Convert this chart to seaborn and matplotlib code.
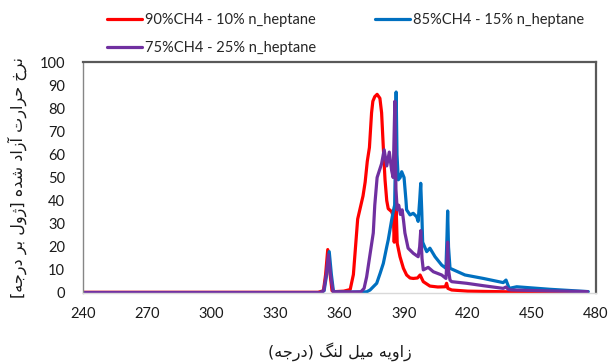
import numpy as np
import pandas as pd
import matplotlib
matplotlib.use("Agg")
import matplotlib.pyplot as plt
import seaborn as sns

# ---- data: crank angle (deg) vs heat release rate (J/deg) ----
red_angle = [240, 350, 352.5, 353.5, 354.5, 355.5, 356.5, 358, 362, 365, 366.5, 367.5,
             368.5, 369.5, 371, 372, 373, 374, 375, 375.6, 376.5, 377.6, 378.9, 379.7,
             380.5, 381.3, 382.1, 382.8, 384.4, 385.2, 385.6, 386.1, 386.5, 387, 388.3,
             389.9, 391.4, 393, 394.5, 396.5, 397.7, 399.2, 401, 402.3, 406, 409.5,
             410.1, 410.7, 412.5, 420, 440, 476]
red_value = [0.3, 0.3, 1, 8, 18.8, 9, 1, 0.6, 0.8, 1.5, 8, 20,
             32, 36, 42, 48, 57, 63, 78, 83, 85, 86, 84.3, 78,
             63, 49, 40, 36.5, 35.2, 33, 22, 33, 37, 21.5, 15.7,
             10.7, 7.8, 6.5, 6.3, 6.5, 7.8, 4.9, 3.8, 3, 2.6, 2.7,
             4.2, 2, 1.3, 0.8, 0.5, 0.3]

blue_angle = [240, 351, 352.8, 354, 355.2, 356.2, 357.2, 365, 372.7, 374.3, 377.4, 379,
              380.5, 382.1, 382.8, 384.4, 385.3, 385.8, 386.2, 386.5, 386.9, 387.5, 388.4,
              389.1, 390.2, 391.1, 391.4, 393, 394.5, 396.1, 396.8, 397.5, 398, 398.5,
              398.9, 400.8, 402.3, 404.7, 407.8, 409.8, 410.3, 410.6, 411, 411.7, 418.7,
              427.3, 436.6, 437.9, 439.4, 442.9, 458.5, 476.4]
blue_value = [0.2, 0.2, 1, 8, 17.9, 8, 0.5, 0.4, 0.5, 1.3, 4.2, 8.5,
              12.8, 20, 23, 31.6, 36, 38, 60, 87, 60, 49, 50,
              52.5, 50, 40, 36, 33.8, 34.5, 33, 31, 40, 47.5, 35,
              22, 17.9, 19.4, 15.7, 12.1, 10.7, 25, 35.5, 20, 10.7, 7.8,
              6.3, 4.5, 5.6, 2, 2.7, 1.6, 0.6]

purple_angle = [240, 351, 352.6, 353.8, 354.8, 355.8, 357, 365, 370, 371.5, 372.7, 374,
                375.8, 376.5, 377.6, 379.7, 380.9, 382.1, 383.3, 384.4, 385.1, 385.9,
                386.4, 387, 387.7, 388.5, 389.3, 390, 390.6, 392.1, 394.5, 396.8, 397.5,
                398, 398.6, 399.2, 401.5, 403.9, 407.8, 409.8, 410.3, 410.6, 411, 411.7,
                412.5, 419.5, 427, 436.6, 437.9, 439, 440.5, 458, 476]
purple_value = [0.2, 0.2, 1, 8, 16.5, 8, 0.5, 0.4, 0.5, 2, 7, 15,
                26, 38, 50, 56, 62, 55, 61, 53, 50, 83,
                45, 36, 38, 34, 36, 31, 26, 19.4, 17.2, 15.7, 20,
                27, 15, 10, 11.1, 9.2, 7.8, 6.3, 14, 22, 10, 5.6,
                4.9, 4.2, 3.2, 2, 2.6, 1.5, 1.3, 0.9, 0.6]

series_names = ["90%CH4 - 10% n_heptane", "85%CH4 - 15% n_heptane", "75%CH4 - 25% n_heptane"]
series_colors = ["#FF0000", "#0070C0", "#7030A0"]

x_ticks = [240, 270, 300, 330, 360, 390, 420, 450, 480]
y_ticks = [0, 10, 20, 30, 40, 50, 60, 70, 80, 90, 100]

x_title = "زاویه میل لنگ (درجه)"
y_title = "نرخ حرارت آزاد شده [ژول بر درجه]"

# ---- minimal Persian shaping (contextual forms + right-to-left order) ----
FORMS = {
    "ا": ("\uFE8D", "\uFE8E", None, None),
    "آ": ("\uFE81", "\uFE82", None, None),
    "ب": ("\uFE8F", "\uFE90", "\uFE91", "\uFE92"),
    "ت": ("\uFE95", "\uFE96", "\uFE97", "\uFE98"),
    "ج": ("\uFE9D", "\uFE9E", "\uFE9F", "\uFEA0"),
    "ح": ("\uFEA1", "\uFEA2", "\uFEA3", "\uFEA4"),
    "خ": ("\uFEA5", "\uFEA6", "\uFEA7", "\uFEA8"),
    "د": ("\uFEA9", "\uFEAA", None, None),
    "ر": ("\uFEAD", "\uFEAE", None, None),
    "ز": ("\uFEAF", "\uFEB0", None, None),
    "ژ": ("\uFB8A", "\uFB8B", None, None),
    "ش": ("\uFEB5", "\uFEB6", "\uFEB7", "\uFEB8"),
    "گ": ("\uFB92", "\uFB93", "\uFB94", "\uFB95"),
    "ل": ("\uFEDD", "\uFEDE", "\uFEDF", "\uFEE0"),
    "م": ("\uFEE1", "\uFEE2", "\uFEE3", "\uFEE4"),
    "ن": ("\uFEE5", "\uFEE6", "\uFEE7", "\uFEE8"),
    "ه": ("\uFEE9", "\uFEEA", "\uFEEB", "\uFEEC"),
    "و": ("\uFEED", "\uFEEE", None, None),
    "ی": ("\uFBFC", "\uFBFD", "\uFBFE", "\uFBFF"),
}
MIRROR = str.maketrans("()[]", ")(][")


def shape_rtl(text):
    out = []
    for i, ch in enumerate(text):
        if ch not in FORMS:
            out.append(ch)
            continue
        prev = text[i - 1] if i > 0 else ""
        nxt = text[i + 1] if i + 1 < len(text) else ""
        iso, fin, ini, med = FORMS[ch]
        join_prev = prev in FORMS and FORMS[prev][2] is not None
        join_next = ini is not None and nxt in FORMS
        if join_prev and join_next:
            out.append(med)
        elif join_prev:
            out.append(fin)
        elif join_next:
            out.append(ini)
        else:
            out.append(iso)
    return "".join(reversed(out)).translate(MIRROR)


# ---- long-form table for seaborn ----
frames = []
for name, ang, val in zip(series_names,
                          [red_angle, blue_angle, purple_angle],
                          [red_value, blue_value, purple_value]):
    frames.append(pd.DataFrame({"angle": ang, "hrr": val, "case": name}))
df = pd.concat(frames, ignore_index=True)

sns.set_theme(style="white")
plt.rcParams["font.family"] = ["Lato", "DejaVu Sans"]

fig = plt.figure(figsize=(6.10, 3.63), dpi=100)
ax = fig.add_axes([83 / 610, 70 / 363, 513 / 610, 231 / 363])

sns.lineplot(data=df, x="angle", y="hrr", hue="case", hue_order=series_names,
             palette=series_colors, estimator=None, errorbar=None, sort=False,
             linewidth=2.3, ax=ax, legend=False)

ax.set_xlim(240, 480)
ax.set_ylim(0, 100)
ax.set_xticks(x_ticks)
ax.set_yticks(y_ticks)
ax.set_xticklabels([str(v) for v in x_ticks])
ax.set_yticklabels([str(v) for v in y_ticks])
ax.tick_params(axis="x", direction="in", length=5, width=1, color="#D9D9D9",
               labelsize=10.5, labelcolor="#1a1a1a", pad=10)
ax.tick_params(axis="y", direction="in", length=4, width=1, color="#868686",
               labelsize=10.5, labelcolor="#1a1a1a", pad=13)

for side in ["top", "right"]:
    ax.spines[side].set_visible(True)
    ax.spines[side].set_color("#595959")
    ax.spines[side].set_linewidth(1.6)
ax.spines["left"].set_color("#868686")
ax.spines["left"].set_linewidth(1.0)
ax.spines["bottom"].set_color("#D9D9D9")
ax.spines["bottom"].set_linewidth(1.0)

ax.set_xlabel(shape_rtl(x_title), fontsize=11.5, family=["DejaVu Sans"], labelpad=15,
              color="#1a1a1a")
ax.set_ylabel(shape_rtl(y_title), fontsize=11.5, family=["DejaVu Sans"], labelpad=9,
              color="#1a1a1a")

# legend laid out row by row: red, blue / purple
lines = ax.get_lines()
handles = [lines[0], lines[2], lines[1]]
labels = [series_names[0], series_names[2], series_names[1]]
leg = fig.legend(handles, labels, loc="upper left", bbox_to_anchor=(100 / 610, 1 - 6 / 363),
                 ncol=2, frameon=False, fontsize=10.5, handlelength=2.4,
                 handletextpad=0.2, columnspacing=4.0, labelspacing=0.95, borderpad=0)

fig.savefig("out.png", dpi=100)
